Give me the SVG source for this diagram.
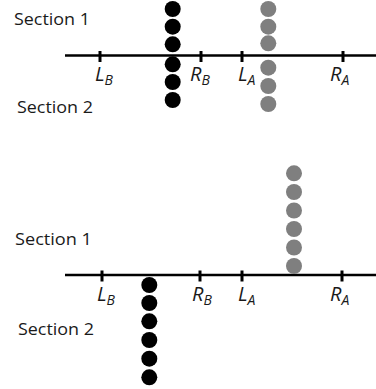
<svg xmlns="http://www.w3.org/2000/svg" width="376" height="389" viewBox="0 0 376 389">
<style>
.lbl{font-family:"Open Sans","Liberation Sans",sans-serif;font-size:17px;fill:#1a1a1a}
.var{font-family:"Open Sans","Liberation Sans",sans-serif;font-size:20px;font-style:italic;fill:#1a1a1a}
.sub{font-size:14px}
.axis{stroke:#000;stroke-width:2.5;fill:none}
.tick{stroke:#000;stroke-width:3}
.blk{fill:#000}
.gry{fill:#7f7f7f}
</style>
<rect width="376" height="389" fill="#fff"/>
<g id="panel-top">
  <g id="axis-top">
    <line class="axis" x1="65" y1="55.5" x2="376" y2="55.5"/>
    <line class="tick" x1="100" y1="51" x2="100" y2="62"/>
    <line class="tick" x1="201" y1="51" x2="201" y2="62"/>
    <line class="tick" x1="242" y1="51" x2="242" y2="62"/>
    <line class="tick" x1="343" y1="51" x2="343" y2="62"/>
  </g>
  <text class="lbl" x="14" y="25" textLength="76" lengthAdjust="spacingAndGlyphs">Section 1</text>
  <text class="lbl" x="17" y="113" textLength="76" lengthAdjust="spacingAndGlyphs">Section 2</text>
  <text class="var" x="95" y="81">L<tspan class="sub" dy="4">B</tspan></text>
  <text class="var" x="190" y="81">R<tspan class="sub" dy="4">B</tspan></text>
  <text class="var" x="238" y="81">L<tspan class="sub" dy="4">A</tspan></text>
  <text class="var" x="330" y="81">R<tspan class="sub" dy="4">A</tspan></text>
  <g id="black-top" class="blk">
    <circle cx="172.7" cy="9" r="8"/>
    <circle cx="172.7" cy="26.7" r="8"/>
    <circle cx="172.7" cy="44.3" r="8"/>
    <circle cx="172.7" cy="64.3" r="8"/>
    <circle cx="172.7" cy="82" r="8"/>
    <circle cx="172.7" cy="100" r="8"/>
  </g>
  <g id="gray-top" class="gry">
    <circle cx="268.3" cy="9" r="8"/>
    <circle cx="268.3" cy="26.7" r="8"/>
    <circle cx="268.3" cy="43.3" r="8"/>
    <circle cx="268.3" cy="67.7" r="8"/>
    <circle cx="268.3" cy="86" r="8"/>
    <circle cx="268.3" cy="104" r="8"/>
  </g>
</g>
<g id="panel-bottom">
  <g id="axis-bottom">
    <line class="axis" x1="65" y1="275" x2="376" y2="275"/>
    <line class="tick" x1="102" y1="270.5" x2="102" y2="281.5"/>
    <line class="tick" x1="200" y1="270.5" x2="200" y2="281.5"/>
    <line class="tick" x1="242" y1="270.5" x2="242" y2="281.5"/>
    <line class="tick" x1="342" y1="270.5" x2="342" y2="281.5"/>
  </g>
  <text class="lbl" x="15" y="245" textLength="77" lengthAdjust="spacingAndGlyphs">Section 1</text>
  <text class="lbl" x="18" y="335" textLength="76" lengthAdjust="spacingAndGlyphs">Section 2</text>
  <text class="var" x="97" y="301">L<tspan class="sub" dy="4">B</tspan></text>
  <text class="var" x="192" y="301">R<tspan class="sub" dy="4">B</tspan></text>
  <text class="var" x="238" y="301">L<tspan class="sub" dy="4">A</tspan></text>
  <text class="var" x="330" y="301">R<tspan class="sub" dy="4">A</tspan></text>
  <g id="gray-bottom" class="gry">
    <circle cx="294" cy="173.3" r="8"/>
    <circle cx="294" cy="192" r="8"/>
    <circle cx="294" cy="210.5" r="8"/>
    <circle cx="294" cy="229" r="8"/>
    <circle cx="294" cy="247.5" r="8"/>
    <circle cx="294" cy="266" r="8"/>
  </g>
  <g id="black-bottom" class="blk">
    <circle cx="149.3" cy="285" r="8"/>
    <circle cx="149.3" cy="303" r="8"/>
    <circle cx="149.3" cy="321.3" r="8"/>
    <circle cx="149.3" cy="340" r="8"/>
    <circle cx="149.3" cy="358.7" r="8"/>
    <circle cx="149.3" cy="377.3" r="8"/>
  </g>
</g>
</svg>
